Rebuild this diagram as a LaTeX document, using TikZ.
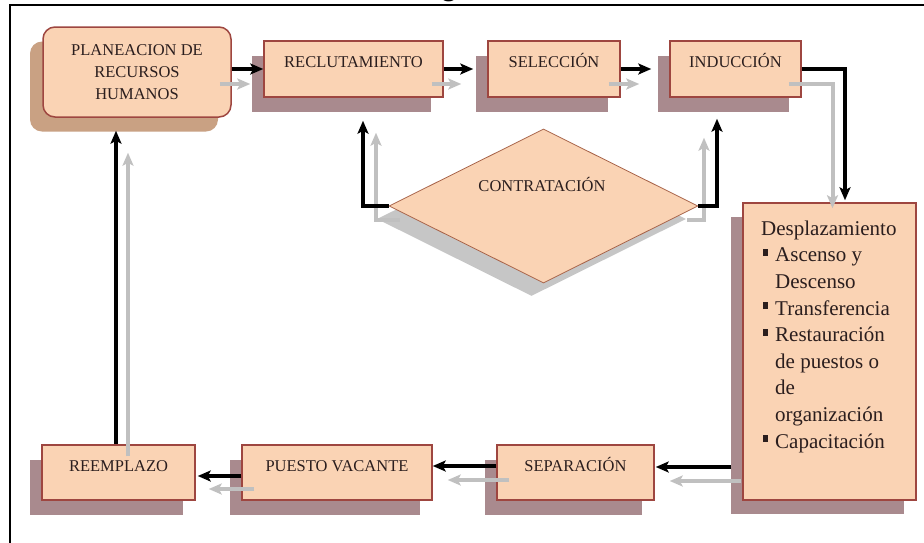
\documentclass[tikz,border=0pt]{standalone}
\usepackage{fontspec}
\setmainfont{Liberation Serif}
\newfontfamily\serifx{Liberation Serif}
\newfontfamily\titlefont{Liberation Sans}
\usetikzlibrary{shapes.geometric,shadows,arrows.meta,calc}
\definecolor{boxfill}{HTML}{FAD3B4}
\definecolor{boxline}{HTML}{9E4640}
\definecolor{diaedge}{HTML}{A8644A}
\definecolor{boxshadow}{HTML}{A98A8E}
\definecolor{planshadow}{HTML}{C9A183}
\definecolor{diashadow}{HTML}{C6C6C6}
\definecolor{arrgray}{HTML}{C0C0C0}
\definecolor{txt}{HTML}{2B1E1E}
\newcommand{\bul}{\makebox[14pt][l]{\hspace{2pt}\rule[6pt]{5pt}{7pt}}}
\newcommand{\indt}{\hspace*{14pt}}
\begin{document}
\begin{tikzpicture}[x=1pt,y=-1pt,
  stepbox/.style={rectangle, draw=boxline, line width=1.5pt, fill=boxfill,
    inner xsep=0pt, inner ysep=0pt, text height=26.5pt, text depth=29.5pt,
    font=\serifx\fontsize{16.5}{20}\selectfont, text=txt,
    general shadow={fill=boxshadow, shadow xshift=-12pt, shadow yshift=-14.5pt}},
  lowbox/.style={stepbox, text depth=28.5pt},
  planbox/.style={rectangle, rounded corners=12pt, draw=boxline, line width=1.5pt, fill=boxfill,
    minimum width=188pt, minimum height=90pt, inner sep=0pt, align=center,
    font=\serifx\fontsize{16.5}{22}\selectfont, text=txt,
    general shadow={fill=planshadow, shadow xshift=-13pt, shadow yshift=-14.5pt}},
  bigbox/.style={rectangle, draw=boxline, line width=1.5pt, fill=boxfill,
    minimum width=173pt, minimum height=297pt, inner sep=0pt,
    general shadow={fill=boxshadow, shadow xshift=-12pt, shadow yshift=-14pt}},
  diabox/.style={diamond, draw=diaedge, line width=0.8pt, fill=boxfill,
    minimum width=309pt, minimum height=154pt, inner sep=0pt,
    general shadow={fill=diashadow, shadow xshift=-12pt, shadow yshift=-13pt}},
  lbl/.style={inner sep=0pt, font=\serifx\fontsize{16.5}{20}\selectfont, text=txt},
  blk/.style={line width=4.5pt, draw=black, -{Stealth[length=13pt,width=11pt,inset=3pt]}},
  gry/.style={line width=4pt, draw=arrgray, -{Stealth[length=13pt,width=11pt,inset=3pt]}}
]
\useasboundingbox (0,0) rectangle (924,542);
\fill[white] (0,0) rectangle (924,542);
% frame and cut title
\draw[line width=2pt] (10,5) rectangle (950,570);
\node[font=\titlefont\bfseries\fontsize{30}{30}\selectfont, anchor=base, inner sep=0pt] (ttl) at (449,-4.5) {g};

% nodes
\node[planbox] (plan) at (137,72) {PLANEACION DE\\RECURSOS\\HUMANOS};
\node[stepbox, minimum width=179pt] (rec) at (353.5,69) {RECLUTAMIENTO};
\node[stepbox, minimum width=132pt] (sel) at (554,69) {SELECCIÓN};
\node[stepbox, minimum width=131pt] (ind) at (735.5,69) {INDUCCIÓN};
\node[diabox] (contr) at (543.5,206) {};
\node[lbl] (contrt) at (542,184) {CONTRATACIÓN};
\node[bigbox] (disp) at (829.5,351.5) {};
\node[anchor=north west, inner sep=0pt, align=left, font=\serifx\fontsize{21}{26.6}\selectfont, text=txt] (dispt) at (761,220.5)
  {Desplazamiento\\
   \bul Ascenso y\\
   \indt Descenso\\
   \bul Transferencia\\
   \bul Restauración\\
   \indt de puestos o\\
   \indt de\\
   \indt organización\\
   \bul Capacitación};
\node[lowbox, minimum width=157pt] (sep) at (575.5,472.5) {SEPARACIÓN};
\node[lowbox, minimum width=190pt] (pv) at (337,472.5) {PUESTO VACANTE};
\node[lowbox, minimum width=153pt] (reem) at (118.5,472.5) {REEMPLAZO};

% gray shadow connectors
\draw[gry] ($(plan.east |- rec.west)+(-12,15)$) -- ($(rec.west)+(-13,15)$);
\draw[gry] ($(rec.east)+(-12,15)$) -- ($(sel.west)+(-26,15)$);
\draw[gry] ($(sel.east)+(-12,15)$) -- ($(ind.west)+(-30,15)$);
\draw[gry] ($(ind.east)+(-13,15)$) -| ($(disp.north)+(3,6)$);
\draw[gry] ($(disp.west |- sep.east)+(-1,8.5)$) -- ($(sep.east)+(15,8.5)$);
\draw[gry] ($(sep.west)+(13,7.5)$) -- ($(pv.east)+(15,7.5)$);
\draw[gry] ($(pv.west)+(13,16.5)$) -- ($(reem.east)+(13,16.5)$);
\draw[gry] ($(reem.north)+(9.5,12)$) -- ($(reem.north |- plan.south)+(9.5,35)$);
\draw[gry] ($(contr.west)+(11,14)$) -| ($(rec.south)+(22.5,35)$);
\draw[gry] ($(contr.east)+(-11,14)$) -| ($(ind.south)+(-31.5,40)$);

% black connectors
\draw[blk] (plan.east |- rec.west) -- (rec.west);
\draw[blk, shorten >=14pt] (rec.east) -- (sel.west);
\draw[blk, shorten >=18pt] (sel.east) -- (ind.west);
\draw[blk, shorten >=2pt] (ind.east) -| ($(disp.north)+(15.5,0)$);
\draw[blk] ($(disp.west |- sep.east)+(-11,-5.5)$) -- ($(sep.east)+(1,-5.5)$);
\draw[blk] ($(sep.west)+(0,-6.5)$) -- ($(pv.east)+(0,-6.5)$);
\draw[blk] ($(pv.west)+(0,3.5)$) -- ($(reem.east)+(2,3.5)$);
\draw[blk] ($(reem.north)+(-2.5,0)$) -- ($(reem.north |- plan.south)+(-2.5,13)$);
\draw[blk] (contr.west) -| ($(rec.south)+(9.5,23)$);
\draw[blk] (contr.east) -| ($(ind.south)+(-18.5,21)$);
\end{tikzpicture}
\end{document}
